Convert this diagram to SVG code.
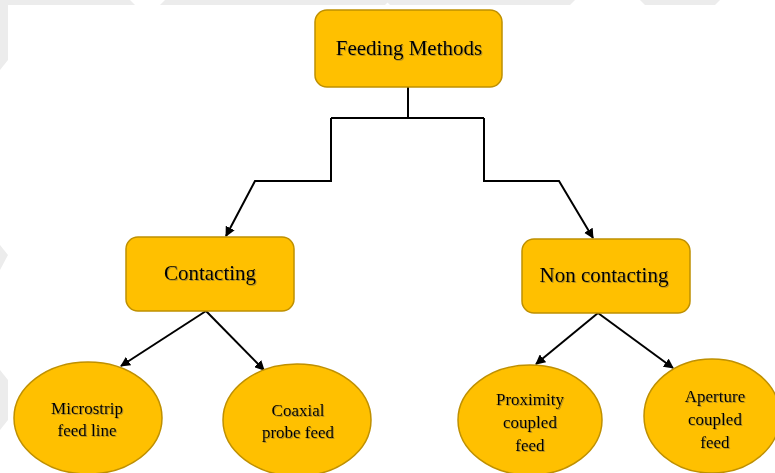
<svg xmlns="http://www.w3.org/2000/svg" width="775" height="473" viewBox="0 0 775 473">
<style>
.box{fill:#FFC000;stroke:#BF9000;stroke-width:1.5}
.t{font-family:"Liberation Serif","Times New Roman",serif;fill:#000;text-anchor:middle;filter:url(#sh)}
.big{font-size:21px}
.sm{font-size:17px}
.con{fill:none;stroke:#000;stroke-width:2}
.wm{fill:#ececec}
</style>
<defs>
<filter id="sh" x="-10%" y="-30%" width="120%" height="160%">
<feDropShadow dx="1" dy="1" stdDeviation="0.7" flood-color="#555" flood-opacity="0.45"/>
</filter>
<marker id="ah" viewBox="0 0 10 10" refX="9" refY="5" markerWidth="10" markerHeight="10" markerUnits="userSpaceOnUse" orient="auto">
<path d="M0,0 L10,5 L0,10 z" fill="#000"/>
</marker>
</defs>
<rect width="775" height="473" fill="#fff"/>
<g id="watermark">
<polygon class="wm" points="0,0 130,0 135,5 0,5"/>
<polygon class="wm" points="165,0 390,0 385,5 160,5"/>
<polygon class="wm" points="385,0 575,0 570,5 390,5"/>
<polygon class="wm" points="640,0 720,0 715,5 645,5"/>
<polygon class="wm" points="0,0 8,0 8,60 0,70"/>
<polygon class="wm" points="0,245 8,255 0,270"/>
<polygon class="wm" points="0,370 8,380 8,420 0,430"/>
</g>
<g id="connectors">
<path class="con" d="M408,87 V118"/>
<path class="con" d="M331,118 H484"/>
<path class="con" d="M331,118 V181 H255 L226,236" marker-end="url(#ah)"/>
<path class="con" d="M484,118 V181 H559 L593,238" marker-end="url(#ah)"/>
<path class="con" d="M206,311 L121,366" marker-end="url(#ah)"/>
<path class="con" d="M206,311 L264,370" marker-end="url(#ah)"/>
<path class="con" d="M598,313 L536,364" marker-end="url(#ah)"/>
<path class="con" d="M598,313 L673,368" marker-end="url(#ah)"/>
</g>
<g id="feeding-methods">
<rect class="box" x="315" y="10" width="187" height="77" rx="12"/>
<text class="t big" x="409" y="55">Feeding Methods</text>
</g>
<g id="contacting">
<rect class="box" x="126" y="237" width="168" height="74" rx="12"/>
<text class="t big" x="210" y="280">Contacting</text>
</g>
<g id="non-contacting">
<rect class="box" x="522" y="239" width="168" height="74" rx="12"/>
<text class="t big" x="604" y="282">Non contacting</text>
</g>
<g id="microstrip">
<ellipse class="box" cx="88" cy="418" rx="74" ry="56"/>
<text class="t sm" x="87" y="414">Microstrip</text>
<text class="t sm" x="87" y="436">feed line</text>
</g>
<g id="coaxial">
<ellipse class="box" cx="297" cy="420" rx="74" ry="56"/>
<text class="t sm" x="298" y="416">Coaxial</text>
<text class="t sm" x="298" y="438">probe feed</text>
</g>
<g id="proximity">
<ellipse class="box" cx="530" cy="420" rx="72" ry="55"/>
<text class="t sm" x="530" y="405">Proximity</text>
<text class="t sm" x="530" y="428">coupled</text>
<text class="t sm" x="530" y="451">feed</text>
</g>
<g id="aperture">
<ellipse class="box" cx="712" cy="416" rx="68" ry="57"/>
<text class="t sm" x="715" y="402">Aperture</text>
<text class="t sm" x="715" y="425">coupled</text>
<text class="t sm" x="715" y="448">feed</text>
</g>
</svg>
